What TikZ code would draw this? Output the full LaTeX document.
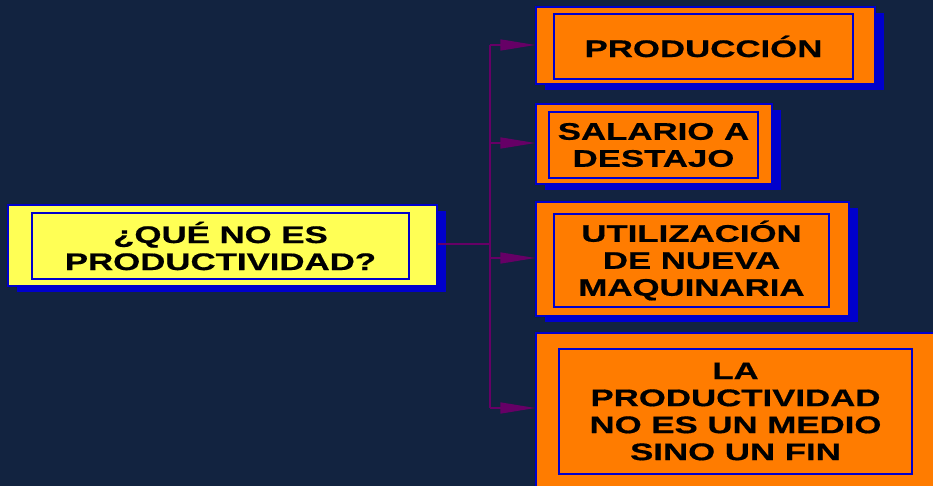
\documentclass[tikz,border=0pt]{standalone}
\usepackage{fontspec}
\usepackage{tikz}
\usetikzlibrary{arrows.meta,shadows}
\newfontfamily\boxfont[FakeStretch=1.45,FakeBold=0.6]{Liberation Sans Bold}
\definecolor{navy}{HTML}{122340}
\definecolor{lemon}{HTML}{FFFF55}
\definecolor{carrot}{HTML}{FF7C00}
\definecolor{boxblue}{HTML}{0000CC}
\definecolor{linkpurple}{HTML}{660066}

\begin{document}
\begin{tikzpicture}[x=1pt,y=-1pt,
    outer/.style={rectangle,draw=boxblue,line width=1.3pt,inner sep=0pt,
        drop shadow={shadow xshift=9pt,shadow yshift=-6pt,fill=boxblue,opacity=1}},
    inner/.style={rectangle,draw=boxblue,line width=1.3pt,inner sep=0pt,align=center,
        font=\boxfont\fontsize{24}{27}\selectfont},
    link/.style={draw=linkpurple,line width=1.5pt},
    tip/.style={-{Triangle[length=35pt,width=11pt]}},
]
\useasboundingbox (0,0) rectangle (933,486);
\clip (0,0) rectangle (933,486);
\fill[navy] (0,0) rectangle (933,486);

\node[outer,fill=lemon,minimum width=429pt,minimum height=81pt] (qbox) at (222.5,245.5) {};
\node[inner,minimum width=377pt,minimum height=66pt] (q) at (220.5,246) {¿QUÉ NO ES\\PRODUCTIVIDAD?};

\node[outer,fill=carrot,minimum width=339pt,minimum height=77pt] (prodbox) at (705.5,45.5) {};
\node[inner,minimum width=299pt,minimum height=65pt] (prod) at (703.5,46.5) {PRODUCCIÓN};

\node[outer,fill=carrot,minimum width=236pt,minimum height=80pt] (salbox) at (654,144) {};
\node[inner,minimum width=209pt,minimum height=66pt] (sal) at (653.5,145) {SALARIO A\\DESTAJO};

\node[outer,fill=carrot,minimum width=313pt,minimum height=114pt] (maqbox) at (692.5,259) {};
\node[inner,minimum width=275pt,minimum height=93pt] (maq) at (691.5,260.5) {UTILIZACIÓN\\DE NUEVA\\MAQUINARIA};

\node[outer,fill=carrot,minimum width=424pt,minimum height=160pt] (finbox) at (748,413) {};
\node[inner,minimum width=353pt,minimum height=125pt] (fin) at (735.5,411.5) {LA\\PRODUCTIVIDAD\\NO ES UN MEDIO\\SINO UN FIN};

\coordinate (split) at (490,244);
\coordinate (t1) at (490,45);
\coordinate (t2) at (490,143);
\coordinate (t3) at (490,258);
\coordinate (t4) at (490,408);

\draw[link] (qbox.east |- split) -- (split);
\draw[link] (t1) -- (t4);
\draw[link,tip] (t1) -- (prodbox.west |- t1);
\draw[link,tip] (t2) -- (salbox.west |- t2);
\draw[link,tip] (t3) -- (maqbox.west |- t3);
\draw[link,tip] (t4) -- (finbox.west |- t4);
\end{tikzpicture}
\end{document}
